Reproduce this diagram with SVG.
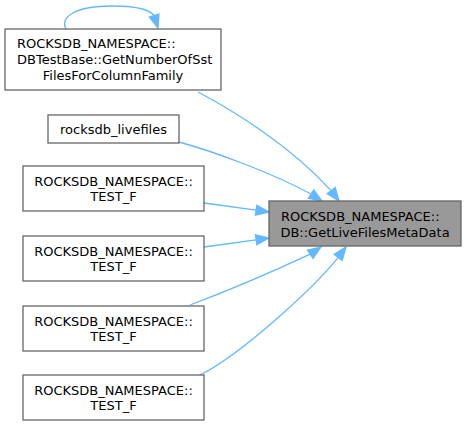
<svg xmlns="http://www.w3.org/2000/svg" width="466" height="425" viewBox="0 0 466 425">
<style>
.box{fill:#ffffff;stroke:#666666;stroke-width:1.3}
.tgt{fill:#999999;stroke:#666666;stroke-width:1.3}
text{font-family:"DejaVu Sans","Liberation Sans",sans-serif;font-size:13px;fill:#000000}
.m{text-anchor:middle}
.s{text-anchor:start}
.e path{fill:none;stroke:#63b8ff;stroke-width:1.3}
.e polygon{fill:#63b8ff;stroke:#63b8ff;stroke-width:1.3}
</style>
<rect width="466" height="425" fill="#ffffff"/>
<g id="edges" class="e">
<path d="M66,29 C60,17 75,6 112,6 C136,6 150,10 154,15.6"/>
<polygon points="158.9,14.1 149.4,17.1 158,28"/>
<path d="M198,92 C232,110 290,145 331,190.6"/>
<polygon points="335.2,187.6 327.2,193.6 339,201"/>
<path d="M179,142 C215,152 270,172 311,194"/>
<polygon points="313.8,189.8 308.4,198.2 322,201"/>
<path d="M204,203 L256,210.2"/>
<polygon points="256.8,205.3 255.4,215.2 269,212"/>
<path d="M204,247 L256,239.8"/>
<polygon points="256.8,244.7 255.4,234.8 269,238"/>
<path d="M190,305 C225,292 272,272 310.2,254.2"/>
<polygon points="313,258.4 307.5,250.1 321,247"/>
<path d="M200,375 C240,355 312,290 338.2,257.4"/>
<polygon points="342.2,260.4 334.2,254.4 346,247"/>
</g>
<g id="node_target">
<rect class="tgt" x="269" y="201" width="192" height="45"/>
<text class="s" x="281" y="221">ROCKSDB_NAMESPACE::</text>
<text class="m" x="365" y="236.5">DB::GetLiveFilesMetaData</text>
</g>
<g id="node_getnumber">
<rect class="box" x="5" y="29" width="216" height="61"/>
<text class="s" x="17" y="48">ROCKSDB_NAMESPACE::</text>
<text class="s" x="17" y="64">DBTestBase::GetNumberOfSst</text>
<text class="m" x="113" y="80">FilesForColumnFamily</text>
</g>
<g id="node_livefiles">
<rect class="box" x="48" y="115" width="131" height="28"/>
<text class="m" x="113.5" y="134">rocksdb_livefiles</text>
</g>
<g id="node_test1">
<rect class="box" x="23" y="166" width="181" height="45"/>
<text class="m" x="113.5" y="185.5">ROCKSDB_NAMESPACE::</text>
<text class="m" x="113.5" y="201">TEST_F</text>
</g>
<g id="node_test2">
<rect class="box" x="23" y="236" width="181" height="45"/>
<text class="m" x="113.5" y="255.5">ROCKSDB_NAMESPACE::</text>
<text class="m" x="113.5" y="271">TEST_F</text>
</g>
<g id="node_test3">
<rect class="box" x="23" y="306" width="181" height="45"/>
<text class="m" x="113.5" y="325.5">ROCKSDB_NAMESPACE::</text>
<text class="m" x="113.5" y="341">TEST_F</text>
</g>
<g id="node_test4">
<rect class="box" x="23" y="375" width="181" height="45"/>
<text class="m" x="113.5" y="394.5">ROCKSDB_NAMESPACE::</text>
<text class="m" x="113.5" y="410">TEST_F</text>
</g>
</svg>
